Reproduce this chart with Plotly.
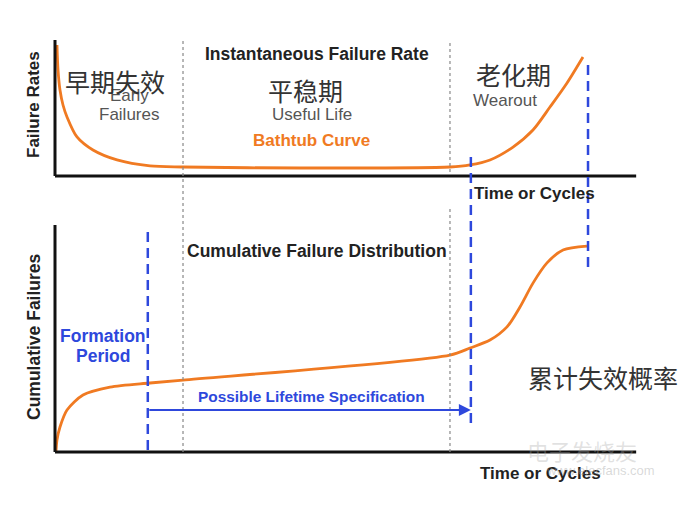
import plotly.graph_objects as go

# ---------------- data ----------------
time_rate = [0.34, 0.52, 0.86, 1.38, 2.07, 3.79, 6.55, 10.69, 16.38, 22.07, 42.2, 68.1,
             71.55, 75.0, 78.97, 82.41, 85.34, 88.28, 91.03]
failure_rate = [9.63, 7.79, 6.32, 5.22, 4.34, 2.87, 1.91, 1.18, 0.74, 0.66, 0.59, 0.66,
                0.81, 1.18, 2.13, 3.38, 5.07, 6.84, 8.75]

time_cum = [0.17, 0.34, 0.86, 2.07, 4.83, 9.48, 16.38, 22.07, 68.1, 71.55, 75.0, 77.93,
            80.17, 82.41, 84.83, 87.59, 91.72]
cum_failures = [0, 5.3, 11.0, 18.5, 25.1, 28.6, 30.4, 31.7, 42.7, 45.8, 49.3, 55.1,
                63.9, 74.4, 83.3, 89.0, 90.7]

early_end = 22.07       # grey dotted boundary
wearout_start = 68.1    # grey dotted boundary
formation_end = 16.0    # blue dashed
spec_end = 71.7         # blue dashed
life_end = 91.9         # blue dashed
t_max = 100.2
rate_max = 10
cum_max = 100

# ---------------- layout mapping ----------------
W, H = 693, 505
X0, XP = 55, 5.8        # px of t=0, px per unit
R0, RP = 176, 13.6      # top panel baseline px, px per unit
C0, CP = 452, 2.27      # bottom panel baseline px, px per unit

def px(p):
    return p / W

def py(p):
    return 1 - p / H

ORANGE = "#f07a22"
BLUE = "#2e48dc"
BOLD = "Liberation Sans"
CJK = "Noto Sans CJK SC"

fig = go.Figure()
fig.add_trace(go.Scatter(x=time_rate, y=failure_rate, mode="lines", yaxis="y",
                         line=dict(color=ORANGE, width=2.8, shape="spline", smoothing=0.8),
                         hoverinfo="skip", showlegend=False))
fig.add_trace(go.Scatter(x=time_cum, y=cum_failures, mode="lines", yaxis="y2",
                         line=dict(color=ORANGE, width=2.8, shape="spline", smoothing=0.8),
                         hoverinfo="skip", showlegend=False))

shapes = []
# axes
shapes += [
    dict(type="line", xref="x", yref="y", x0=0, x1=0, y0=0, y1=rate_max, line=dict(color="#111", width=3)),
    dict(type="line", xref="x", yref="y", x0=0, x1=t_max, y0=0, y1=0, line=dict(color="#111", width=3)),
    dict(type="line", xref="x", yref="y2", x0=0, x1=0, y0=0, y1=cum_max, line=dict(color="#111", width=3)),
    dict(type="line", xref="x", yref="y2", x0=0, x1=t_max, y0=0, y1=0, line=dict(color="#111", width=3)),
]
# grey dotted phase boundaries
shapes += [
    dict(type="line", xref="x", yref="paper", x0=early_end, x1=early_end, y0=py(452), y1=py(38),
         line=dict(color="#888", width=1.2, dash="dot")),
    dict(type="line", xref="x", yref="paper", x0=wearout_start, x1=wearout_start, y0=py(172), y1=py(42),
         line=dict(color="#888", width=1.2, dash="dot")),
    dict(type="line", xref="x", yref="paper", x0=wearout_start, x1=wearout_start, y0=py(452), y1=py(207),
         line=dict(color="#888", width=1.2, dash="dot")),
]
# blue dashed lines
shapes += [
    dict(type="line", xref="x", yref="paper", x0=formation_end, x1=formation_end, y0=py(450), y1=py(227),
         line=dict(color=BLUE, width=2.5, dash="10px,6px")),
    dict(type="line", xref="x", yref="paper", x0=spec_end, x1=spec_end, y0=py(423), y1=py(155),
         line=dict(color=BLUE, width=2.5, dash="10px,6px")),
    dict(type="line", xref="x", yref="paper", x0=life_end, x1=life_end, y0=py(267), y1=py(60),
         line=dict(color=BLUE, width=2.5, dash="10px,6px")),
]

ann = []
def txt(s, x, y, size=17, color="#222", bold=False, family=BOLD, angle=0):
    ann.append(dict(text=f"<b>{s}</b>" if bold else s, x=px(x), y=py(y), xref="paper", yref="paper",
                    showarrow=False, xanchor="center", yanchor="middle", textangle=angle,
                    font=dict(size=size, color=color, family=family)))

txt("Instantaneous Failure Rate", 317, 54, 17.5, "#222", True)
txt("Early", 129, 96, 17, "#555")
txt("Failures", 129, 115, 17, "#555")
txt("早期失效", 115, 81, 25, "#333", family=CJK)
txt("Useful Life", 312, 115, 17, "#555")
txt("平稳期", 305, 90, 25, "#333", family=CJK)
txt("Bathtub Curve", 311, 140, 17, ORANGE, True)
txt("Wearout", 505, 101, 17, "#555")
txt("老化期", 513, 74, 25, "#333", family=CJK)
txt("Time or Cycles", 534, 193, 17, "#222", True)
txt("Failure Rates", 34, 105, 17, "#222", True, angle=-90)
txt("Cumulative Failure Distribution", 317, 251, 17.5, "#222", True)
txt("Cumulative Failures", 34, 337, 17.5, "#222", True, angle=-90)
txt("Formation", 103, 336, 17.5, BLUE, True)
txt("Period", 103, 356, 17.5, BLUE, True)
txt("Possible Lifetime Specification", 311, 396, 15.4, BLUE, True)
txt("累计失效概率", 603, 377, 25, "#333", family=CJK)
txt("Time or Cycles", 540, 473, 17, "#222", True)
# faint watermark
txt("电子发烧友", 582, 450, 22, "rgba(170,170,170,0.35)", family=CJK)
txt("www.elecfans.com", 600, 470, 13, "rgba(170,170,170,0.45)")

# arrow for lifetime specification
ann.append(dict(x=spec_end, y=(C0 - 410) / CP, xref="x", yref="y2",
                ax=formation_end, ay=(C0 - 410) / CP, axref="x", ayref="y2",
                showarrow=True, arrowhead=2, arrowsize=1.2, arrowwidth=2, arrowcolor=BLUE, text=""))

fig.update_layout(
    width=W, height=H, margin=dict(l=0, r=0, t=0, b=0),
    paper_bgcolor="white", plot_bgcolor="white",
    xaxis=dict(range=[(0 - X0) / XP, (W - X0) / XP], visible=False, domain=[0, 1]),
    yaxis=dict(range=[(R0 - H) / RP, R0 / RP], visible=False, domain=[0, 1]),
    yaxis2=dict(range=[(C0 - H) / CP, C0 / CP], visible=False, overlaying="y"),
    shapes=shapes, annotations=ann,
)
fig.write_html("out.html")
